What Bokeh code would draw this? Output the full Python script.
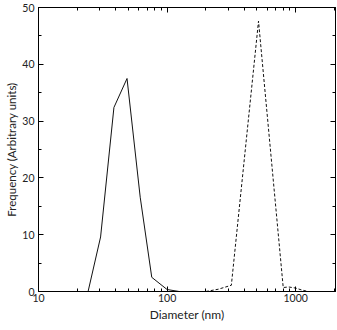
from bokeh.plotting import figure
from bokeh.models import FixedTicker, LogAxis, LinearAxis, Range1d, NumeralTickFormatter
from bokeh.embed import file_html
from bokeh.resources import INLINE

# Data
solid_x = [24.3, 30.4, 38.6, 48.8, 61.8, 76, 100, 124]
solid_y = [0, 9.6, 32.4, 37.5, 16.6, 2.5, 0.35, 0]
dashed_x = [200, 250, 316, 514, 800, 880, 1000, 1100, 1250]
dashed_y = [0, 0.4, 1.1, 47.6, 0.7, 0.8, 0.6, 0.3, 0]

x_major = [10, 100, 1000]
x_minor = [20, 30, 40, 50, 60, 70, 80, 90, 200, 300, 400, 500, 600, 700, 800, 900, 2000]
y_major = [0, 10, 20, 30, 40, 50]
y_minor = [5, 15, 25, 35, 45]

FONT = "Lato"

p = figure(width=337, height=330, x_axis_type="log", output_backend="svg",
           toolbar_location=None, x_range=Range1d(10, 2040), y_range=Range1d(0, 50),
           min_border_left=38, min_border_right=2, min_border_top=7, min_border_bottom=39,
           x_axis_label="Diameter (nm)", y_axis_label="Frequency (Arbitrary units)")
p.background_fill_color = "white"
p.border_fill_color = "white"
p.outline_line_color = "black"
p.outline_line_width = 1
p.xgrid.visible = False
p.ygrid.visible = False

p.line(solid_x, solid_y, line_color="#111111", line_width=1)
p.line(dashed_x, dashed_y, line_color="#111111", line_width=1, line_dash="3 2")

def style(ax, ticks, minor, labels=True):
    ax.ticker = FixedTicker(ticks=ticks, minor_ticks=minor)
    ax.axis_line_color = "black"
    ax.major_tick_in = 5
    ax.major_tick_out = 0
    ax.minor_tick_in = 3
    ax.minor_tick_out = 0
    ax.major_tick_line_color = "black"
    ax.minor_tick_line_color = "black"
    ax.major_label_text_font = FONT
    ax.major_label_text_font_size = "10.5px" if labels else "1px"
    ax.major_label_text_color = "#222222"
    if not labels:
        ax.major_label_text_alpha = 0
    ax.major_label_standoff = 4 if labels else 0
    ax.axis_label_text_font = FONT
    ax.axis_label_text_font_size = "12px"
    ax.axis_label_text_font_style = "normal"
    ax.axis_label_text_color = "#222222"
    ax.axis_label_standoff = 6

style(p.xaxis[0], x_major, x_minor)
p.xaxis[0].formatter = NumeralTickFormatter(format="0")
p.xaxis[0].major_label_standoff = 2
p.xaxis[0].axis_label_standoff = 2
style(p.yaxis[0], y_major, y_minor)
p.yaxis[0].major_label_standoff = 4
p.yaxis[0].axis_label_standoff = 1
p.yaxis[0].axis_label_text_font_size = "11.5px"

top = LogAxis()
style(top, x_major, x_minor, labels=False)
p.add_layout(top, "above")
right = LinearAxis()
style(right, y_major, y_minor, labels=False)
p.add_layout(right, "right")

open("out.html", "w").write(file_html(p, INLINE))
